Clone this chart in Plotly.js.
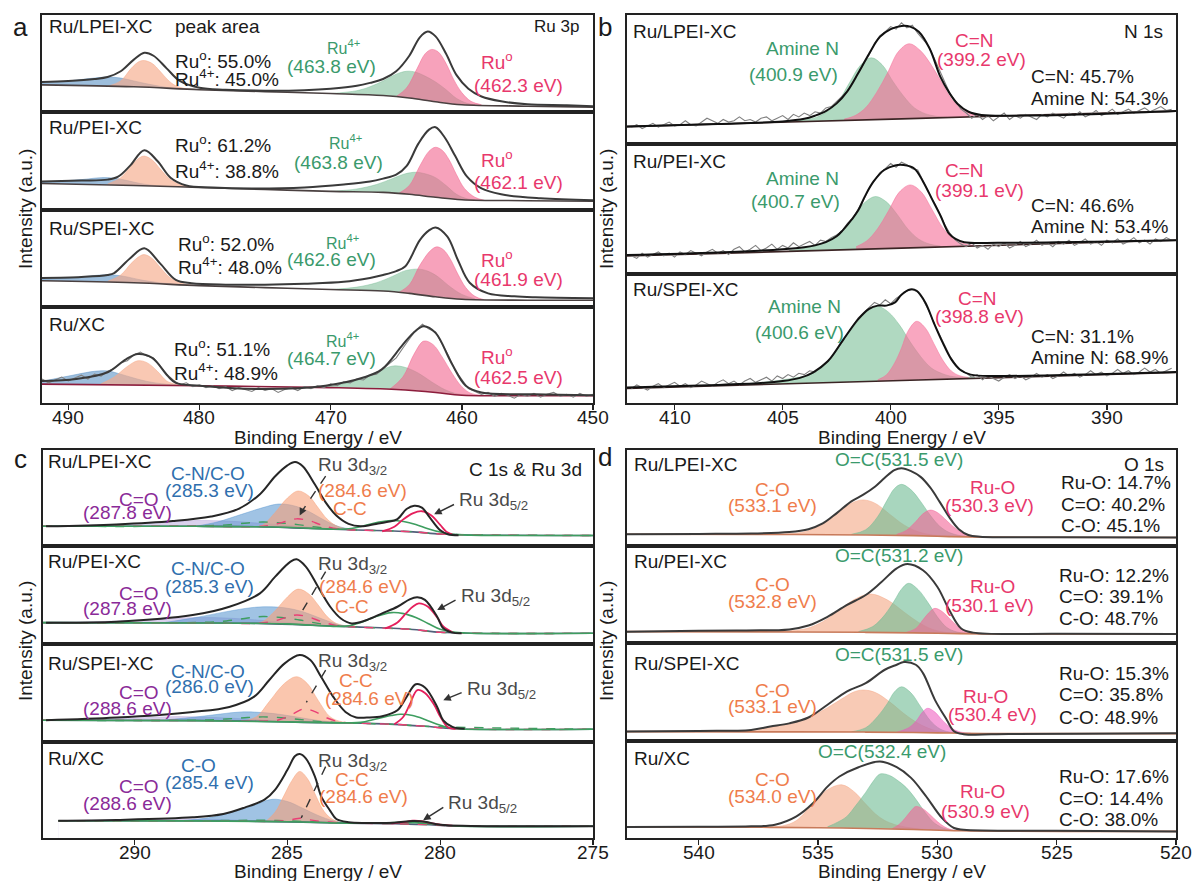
<!DOCTYPE html>
<html><head><meta charset="utf-8">
<script src="https://cdn.plot.ly/plotly-3.0.1.min.js"></script>
<style>html,body{margin:0;padding:0;background:#fff;}#chart{width:1196px;height:881px;}</style>
</head><body><div id="chart"></div>
<script>
// ===== DATA (x = binding energy / eV, y = intensity in % of each row height) =====
// ---- Panel a : Ru 3p ----
const aLPEI_env=[[492,31],[490,32],[488,34],[487,36],[486,42],[485,54],[484.2,61],[483.5,58],[482.5,45],[481.5,32],[480,25],[478,23],[475,22],[472,22.5],[470,24],[468,27],[467,30],[466,34],[465,42],[464,58],[463.2,77],[462.6,83],[462,78],[461.2,60],[460.4,38],[459.5,24],[458.5,16],[457,11],[455,8],[452,7],[450,6]];
const aLPEI_bg=[[492,28],[485,26],[480,23],[475,21],[470,19],[466,17],[464,14.5],[462,10.5],[460,7.5],[455,6],[450,5]];
const aLPEI_blue=[[492,30],[490,32],[488,35],[487,36],[486,35],[485,32],[484,29],[483,26.5],[482,24.5],[480,23]];
const aLPEI_orange=[[487,26.5],[486,32],[485.2,45],[484.6,52],[484.2,53],[483.6,50],[483,42],[482.4,33],[481.8,27],[481,24],[480,23]];
const aLPEI_green=[[470,19],[468,22],[467,26],[466,32],[465,39],[464.2,42],[463.5,41],[462.8,37],[462,31],[461.2,23],[460.4,14],[459.6,9],[459,7.5]];
const aLPEI_pink=[[465,16],[464.2,25],[463.4,45],[462.8,60],[462.3,64.5],[461.8,62],[461.2,50],[460.6,33],[460,20],[459.3,11],[458.5,7.5]];

const aPEI_env=[[492,29],[489,30],[487,31],[486.2,34],[485.3,45],[484.2,61],[483.2,50],[482.2,33],[481,25],[479,23],[476,22],[472,23],[469,26],[467,29],[466,32],[465,36],[464.2,45],[463.3,68],[462.5,82],[462,84.5],[461.3,74],[460.5,55],[459.6,34],[458.5,22],[457,16],[454,12],[450,10]];
const aPEI_bg=[[492,27],[485,25],[480,23],[475,21],[470,19],[466,18],[464,16],[462,13],[460,10.5],[455,9.5],[450,9]];
const aPEI_blue=[[492,28.5],[489,31],[487.5,33],[486.5,32.5],[485.5,30],[484.5,27],[483,24.5],[481,23.3]];
const aPEI_orange=[[487,26.5],[486,33],[485.2,45],[484.6,53],[484.2,55],[483.6,51],[483,42],[482.3,32],[481.5,26],[480.5,23.5]];
const aPEI_green=[[470,19],[468,21.5],[466.5,26],[465.3,32],[464.3,37],[463.5,38.5],[462.8,37],[462,33],[461.2,25],[460.4,16],[459.6,11.5],[459,10.3]];
const aPEI_pink=[[464.8,17],[464,25],[463.2,45],[462.5,60],[462,64],[461.5,61],[461,52],[460.4,36],[459.8,22],[459,13],[458.3,10]];

const aSPEI_env=[[492,30],[489,31],[487,33],[486.5,35],[485.3,50],[484.2,60.5],[483,45],[481.8,28],[480.6,24.5],[478,23],[475,23],[472,24],[469,26],[467,30],[466,33],[465,37],[464.3,42],[463.2,69],[462.5,79],[462,82],[461.1,72.5],[460.3,48.5],[459.4,25],[458,14],[456,11],[454.4,10],[450,9]];
const aSPEI_bg=[[492,27],[485,25],[480,22],[475,20],[470,18],[466,16.5],[464,14],[462,10.5],[460,8],[455,7],[450,7]];
const aSPEI_blue=[[492,28.5],[489,31],[487.5,33],[486.5,33],[485.5,31],[484.5,28],[483,25],[481,22.5]];
const aSPEI_orange=[[487,26.5],[486,33],[485.2,45],[484.6,52],[484.2,54],[483.6,50],[483,41],[482.3,31],[481.5,25],[480.5,22.5]];
const aSPEI_green=[[470,18],[468,20.5],[466.5,25],[465.3,31.5],[464.3,37.5],[463.3,39],[462.6,37],[461.8,31],[461,22],[460,13],[459,8.5]];
const aSPEI_pink=[[464.8,15],[464,23],[463.2,43],[462.4,58],[461.9,62],[461.4,59],[460.9,50],[460.3,34],[459.7,20],[459,11],[458.3,7.5]];

const aXC_env=[[492,23],[489.4,25],[487,32],[485.6,45.5],[484.7,51],[483.6,47],[482.4,28],[481.8,21],[480,18],[475,14.5],[470.4,18],[467.5,26.5],[466.1,35],[464.6,59],[463.7,73],[462.9,80],[462,73],[460.8,42],[459.7,18],[458.5,11],[454.4,9],[450,8]];
const aXC_bg=[[492,19.7],[480,18],[470,16],[465,14],[462,11],[460,8],[455,7.7],[450,7.6]];
const aXC_blue=[[492,22.5],[490,28],[488,33],[487,33.4],[486,30],[485,26],[484,22.5],[482.5,19.5],[481,18.3]];
const aXC_orange=[[487.5,20],[486.5,27],[485.5,38],[484.7,44],[484,42],[483.2,33],[482.5,23],[481.8,19.5],[481,18.2]];
const aXC_green=[[471,16.3],[469,20],[467.5,26],[466.2,34],[465.2,38.6],[464.3,37],[463.3,31],[462.3,22],[461.3,14],[460.5,10],[459.5,8]];
const aXC_pink=[[465.5,14.2],[464.5,27],[463.6,52],[462.9,64.5],[462.2,61],[461.5,48],[460.7,30],[460,17],[459.3,10],[458.5,8]];
// raw spectrum Ru/XC : start 492 eV, step 0.5 eV
const aXC_rawStart=492, aXC_rawStep=0.5;
const aXC_raw=[25,21,24,27,23,26,29,25,30,28,33,36,42,44,50,53,49,47,38,30,24,19,21,17,19,16,18,15,17,13,16,14,12,16,13,15,11,14,16,13,17,15,18,16,20,18,22,21,25,24,29,30,36,41,47,57,66,76,82,77,74,62,49,34,24,15,12,9,11,7,10,8,5,9,7,10,6,9,11,7,9,6,10,7,9];

// ---- Panel b : N 1s ----
const bLPEI_env=[[412.2,13.5],[408,15.5],[405,17.5],[404,19.5],[403.5,22],[403,25.5],[402.5,31.5],[402,41],[401.5,55],[401,70],[400.5,83],[400,89],[399.5,91.5],[399.1,91],[398.7,87],[398.2,74],[397.7,52],[397.3,40],[396.9,31],[396.4,25],[395.8,22.5],[394,22],[390,23.5],[386.8,25.5]];
const bLPEI_bg=[[412.2,13.5],[399.5,19.5],[386.8,25.5]];
const bLPEI_green=[[405,17],[404.4,18],[403.9,19],[403.4,21],[402.9,25.5],[402.4,33.7],[401.9,47.7],[401.4,61],[400.9,66.8],[400.4,61.5],[399.9,48.6],[399.4,37],[398.9,28],[398.4,23.5],[397.9,21.5],[397.4,20.8]];
const bLPEI_pink=[[402.15,19.3],[401.65,22],[401.15,28.3],[400.65,40],[400.15,55],[399.65,71.5],[399.15,77.7],[398.65,72.8],[398.15,62],[397.65,48],[397.15,34],[396.65,26.5],[396.15,23],[395.65,22]];
const bPEI_env=[[412.2,14.6],[408,16.5],[405,19],[404,20.5],[403.5,22],[403,24.5],[402.5,29],[402.2,34],[401.8,42],[401.5,49],[401.2,59.5],[400.8,71],[400.3,80],[399.8,83.5],[399.4,83.8],[398.9,81],[398.5,71],[398.1,58],[397.7,45],[397.3,31],[397,27],[396.6,24.5],[395,24],[390,25],[386.8,26]];
const bPEI_bg=[[412.2,13.8],[399.5,19.9],[386.8,26]];
const bPEI_green=[[404.7,18.2],[404.2,19],[403.7,21],[403.2,23.5],[402.7,27.8],[402.2,34],[401.7,44.8],[401.2,55],[400.7,59.6],[400.2,55.5],[399.7,45.8],[399.2,34.5],[398.7,26.8],[398.2,23],[397.7,21.5]];
const bPEI_pink=[[401.6,21],[401.1,25.6],[400.6,35],[400.1,48.6],[399.6,63],[399.1,68.5],[398.6,63.4],[398.1,50],[397.6,35.8],[397.1,27],[396.6,23.3],[396.1,22]];
const bSPEI_env=[[412.2,12],[408,14],[406,15.5],[405,17],[404.2,19.5],[403.6,23.6],[402.9,32.6],[402.2,49],[401.5,65],[401,73],[400.6,75.5],[400.2,75.5],[399.8,78],[399.5,84],[399.1,88],[398.8,87],[398.4,78],[398,62],[397.6,47],[397.2,34],[396.8,26],[396.3,22],[395,21],[390,22.5],[386.8,24]];
const bSPEI_bg=[[412.2,11.3],[399.5,17.5],[386.8,23.6]];
const bSPEI_green=[[406.6,15],[405.6,16.6],[404.6,19],[403.6,23],[402.9,32.6],[402.2,48.6],[401.6,61.6],[401.1,71.4],[400.6,74.9],[400.1,70.4],[399.6,60.6],[399.1,47.4],[398.6,35.7],[398.1,26.9],[397.6,22.7],[397.1,20.4],[396.1,19.8]];
const bSPEI_pink=[[400.6,18],[400.2,21.8],[399.8,31.6],[399.5,42.7],[399.2,55.7],[398.8,63.3],[398.4,58.2],[398,46],[397.6,33.5],[397.2,24.9],[396.8,21.1],[396.4,19.8]];
// raw N 1s spectra : start 412 eV, step 0.25 eV
const bRawStart=412, bRawStep=0.25;
const bLPEI_raw=[13,15,12,14,16,13,15,17,14,15,18,15,14,17,20,18,16,19,17,18,21,18,19,17,20,21,18,20,22,19,23,21,24,22,25,24,28,29,33,37,41,48,55,62,69,78,84,87,91,89,94,90,92,86,81,76,67,57,48,39,33,27,24,20,23,19,22,18,21,24,19,22,20,23,21,19,23,21,24,22,20,24,22,25,21,23,26,22,24,27,23,25,27,24,26,28,25,27,29,26,27];
const bPEI_raw=[14,12,16,13,15,17,14,16,13,17,15,18,16,14,17,19,16,18,15,19,21,17,19,22,18,20,23,19,22,20,24,21,23,25,22,26,25,28,30,33,39,43,50,57,66,72,78,81,85,82,86,84,81,80,72,63,56,47,38,31,26,23,21,24,20,22,19,23,21,24,20,22,25,21,23,26,22,24,21,25,23,26,22,24,27,23,25,22,26,24,27,23,25,28,24,26,23,27,25,28,26];
const bSPEI_raw=[11,14,12,10,13,15,12,14,16,13,15,12,14,17,15,13,16,18,15,17,14,17,19,16,18,20,17,21,19,22,20,23,22,25,24,28,31,35,41,47,54,59,66,70,74,78,76,80,77,81,84,87,88,86,80,72,62,53,45,36,30,25,23,20,22,18,21,19,17,20,22,19,21,18,20,23,20,22,19,21,24,21,23,20,22,25,22,24,21,23,26,23,25,22,24,27,24,26,23,25,27];

// ---- Panel c : C 1s & Ru 3d ----
const cLPEI_env=[[292.9,20.5],[290.6,22.5],[288.75,26],[287.5,30.7],[286.6,38.6],[285.9,54],[285.4,72.7],[285,84],[284.75,87.4],[284.5,83],[284.1,64],[283.75,45.4],[283.4,31.7],[283,23],[282.6,20.5],[282.1,23],[281.75,25],[281.4,28],[281.1,38.6],[280.85,42],[280.6,40],[280.35,30],[280,16.4],[279.75,12.3],[279.4,11.3]];
const cLPEI_bg=[[293,20.5],[288,20.5],[286,20],[284.5,18.5],[283,17],[281,15],[280,12.5],[279,11.5],[275,11]];
const cLPEI_purple=[[292.9,20.6],[291,22],[289.5,24],[288.5,26],[287.8,26.6],[287,26],[286,24],[285,21.5],[284,19]];
const cLPEI_blue=[[288,20.6],[287.3,25],[286.5,33],[285.8,40],[285.3,43.7],[284.8,42],[284.3,36],[283.8,27],[283.3,20],[282.8,17.3]];
const cLPEI_orange=[[286,20.2],[285.8,22],[285.4,35],[285,50],[284.65,57.3],[284.3,52],[284,40],[283.7,28],[283.4,21],[283,17.3]];
const cLPEI_dpink=[[293,20.5],[288,20.5],[286,20.2],[285.5,22],[285,26],[284.7,28.3],[284.3,26.5],[283.9,22],[283.5,18.5],[283,17],[281,15],[280,12.5],[279,11.5],[275,11]];
const cLPEI_dgreen=[[293,20.5],[288,20.8],[287,22],[286.3,24],[285.8,25],[285.2,24],[284.6,22],[284,19.5],[283.3,17.5],[282.5,16.5],[281,15],[280,12.5],[275,11]];
const cLPEI_sgreen=[[293,20.5],[288,20.5],[285,19.5],[283.5,17.5],[283,18],[282.5,21],[282,25],[281.6,26.6],[281.2,25.5],[280.8,22.5],[280.4,18],[280,14.5],[279.5,12],[279,11.3],[275,11]];
const cLPEI_spink=[[281.9,15.3],[281.5,20],[281.2,28],[280.9,34],[280.6,36.2],[280.3,32],[280,22],[279.8,15],[279.6,12]];

const cPEI_env=[[292.9,21.8],[290.6,22.8],[288.1,29.5],[286.9,38],[285.9,51.7],[285.4,68.7],[284.9,84],[284.7,86.4],[284.4,79],[284,58.5],[283.6,38],[283.25,26],[282.9,21],[282.4,24.5],[281.9,31.3],[281.4,38],[281,45.6],[280.75,47.6],[280.5,45],[280.1,27.9],[279.9,16],[279.6,11.6],[279.3,11]];
const cPEI_bg=[[293,21.8],[288,21.5],[286,21],[284.5,19.5],[283,17.7],[281,15],[280,12],[279,11],[275,10.9]];
const cPEI_purple=[[292.9,21.9],[291,23],[289.5,25],[288.5,26.5],[287.8,27],[287,26.5],[286,24.5],[285,22],[284,19.5]];
const cPEI_blue=[[289,22],[288,27],[287,33],[286.2,37],[285.7,38],[285.1,37],[284.5,33],[283.9,26],[283.3,19.5],[282.8,17.3]];
const cPEI_orange=[[286,21.2],[285.8,23],[285.4,34],[285,48],[284.65,56],[284.3,51],[284,40],[283.7,28],[283.4,21],[283,18]];
const cPEI_dpink=[[293,21.8],[288,21.5],[286,21.2],[285.5,23],[285,27.5],[284.7,29.6],[284.3,27.5],[283.9,23],[283.5,19.5],[283,17.7],[281,15],[280,12],[279,11],[275,10.9]];
const cPEI_dgreen=[[293,21.8],[288,22],[287,23.5],[286.3,26.5],[285.8,28],[285.2,27],[284.6,24.5],[284,21],[283.3,18.5],[282.5,17],[281,15],[280,12],[275,10.9]];
const cPEI_sgreen=[[293,21.8],[288,21.5],[285,20.5],[283.5,18],[283,18.5],[282.6,22],[282.1,28],[281.6,32],[281.2,31],[280.8,27],[280.4,21],[280,15],[279.5,12],[279,11],[275,10.9]];
const cPEI_spink=[[281.8,16],[281.4,22],[281.1,32],[280.9,38],[280.7,41.5],[280.4,38],[280.1,27],[279.9,18],[279.6,12]];

const cSPEI_env=[[292.9,22.2],[290.6,24.9],[288.1,30.7],[286.9,35.8],[286.1,46],[285.6,63],[285.1,80],[284.6,88.7],[284.25,83.6],[283.9,66.6],[283.5,46],[283.1,30.7],[282.75,25],[282.4,25],[281.9,26.3],[281.4,32.4],[281.1,46],[280.8,59],[280.5,55.6],[280.1,35.8],[279.9,22],[279.6,15.4],[279.2,13.5]];
const cSPEI_bg=[[293,22.2],[288,21.8],[286,21.2],[284.5,20],[283,19.5],[281.5,18],[280.5,16],[279.5,13.5],[275,13]];
const cSPEI_purple=[[292.9,22.3],[291,23.5],[289.5,25],[288.6,26],[287.8,25.5],[287,24.5],[286,23],[285,21],[284,20]];
const cSPEI_blue=[[289,22.5],[288,25.5],[287.2,28.5],[286.5,30.7],[285.8,30],[285.2,28],[284.6,25],[284,22],[283.4,20]];
const cSPEI_orange=[[286.4,21.5],[286,26],[285.6,41],[285.1,59.7],[284.7,66.6],[284.35,59.7],[284,42.7],[283.6,25.6],[283.2,20.5],[282.8,19.5]];
const cSPEI_dpink=[[293,22.2],[288,21.8],[286,21.2],[285.3,22.5],[284.8,29],[284.45,34],[284.1,31],[283.7,24.5],[283.3,20.5],[283,19.5],[281.5,18],[280.5,16],[279.5,13.5],[275,13]];
const cSPEI_dgreen=[[293,22.2],[288,22.3],[287,23.5],[286.3,25],[285.8,25.6],[285.2,24.8],[284.6,23],[284,21],[283.3,19.8],[282.5,19],[281.5,18],[280.5,16],[275,13]];
const cSPEI_sgreen=[[293,22.2],[288,21.8],[285,20.5],[283,19.5],[282.6,20],[282.1,23.5],[281.6,27],[281.3,28.3],[280.9,27],[280.5,23],[280.1,18],[279.7,14.5],[279.3,13.3],[275,13]];
const cSPEI_spink=[[281.5,18],[281.2,26],[281,38],[280.75,53],[280.5,50],[280.2,38],[280,26],[279.75,15],[279.5,13.5]];

const cXC_env=[[292.5,18],[290.6,18.8],[288.1,21.5],[287.1,25],[286.4,31.7],[285.75,40],[285.4,50.5],[285,71],[284.75,85.3],[284.6,87.4],[284.4,83],[284.1,64],[283.9,43.7],[283.6,28.3],[283.4,19.8],[283,16.4],[282.4,15.7],[281.5,16],[280.9,17.7],[280.5,17],[280,13.7],[279,12.5],[275,12.3]];
const cXC_bg=[[292.5,18],[288,17.8],[286,17.3],[284.5,16.5],[283,15.5],[281.5,15],[280.5,14],[279.5,12.5],[275,12.3]];
const cXC_purple=[[292.5,18.1],[291,18.7],[289.5,19.5],[288.6,20],[287.8,19.8],[287,19],[286,18],[285,17]];
const cXC_blue=[[288.5,18],[287.5,21.5],[286.8,27],[286.1,34],[285.5,40.3],[285,38],[284.5,31],[284,23.5],[283.5,18],[283,15.7]];
const cXC_orange=[[285.7,17.5],[285.4,27],[285.1,45],[284.85,60],[284.6,69.3],[284.35,62],[284.1,46],[283.85,30],[283.6,21],[283.3,16.5],[283,15.6]];
const cXC_dpink=[[292.5,18],[288,17.8],[286,17.3],[285.3,17.5],[284.8,19.5],[284.6,20.5],[284.3,19],[283.8,17],[283,15.5],[281.5,15],[280.5,14],[279.5,12.5],[275,12.3]];
const cXC_dgreen=[[292.5,18],[287,18.2],[286,18.5],[285,18],[284,16.5],[283,15.5],[281.5,15],[280.5,14],[279.5,12.5],[275,12.3]];
const cXC_sgreen=[[292.5,18],[288,17.8],[285,17],[283,15.5],[282,15.5],[281.3,16.3],[280.8,16],[280.2,14.5],[279.5,12.5],[275,12.3]];
const cXC_spink=[[281.6,15],[281.2,16.5],[280.9,18],[280.6,17.5],[280.3,15.5],[280,14],[279.6,12.8]];

// ---- Panel d : O 1s ----
const dLPEI_env=[[543,12.3],[540,12.6],[537.8,13],[536.2,14.5],[535.4,17.5],[534.8,23.5],[534.2,34.5],[533.6,46.5],[533.1,53.5],[532.6,62],[532.2,71],[531.8,79],[531.5,81],[531.1,78],[530.7,72],[530.3,61],[529.9,46],[529.5,30],[529.1,17.5],[528.7,11.5],[528.2,9.7],[525,9.2],[520,8.9]];
const dLPEI_bg=[[543,12.3],[536,12],[533,11.5],[531,10.8],[529.5,9.8],[528,9.2],[520,8.9]];
const dLPEI_orange=[[537,12.4],[536,13.1],[535.4,16],[534.8,22.8],[534.2,33.7],[533.6,44.6],[533.1,48],[532.6,44.4],[532,33.2],[531.4,22],[530.8,14.8],[530.2,11.5],[529.6,10.1]];
const dLPEI_green=[[533.6,12.2],[533,16.9],[532.5,30.5],[532.1,47.8],[531.8,59.7],[531.5,64.2],[531.1,58.5],[530.7,46.4],[530.3,32.2],[529.9,20.6],[529.5,14.1],[529,10.6],[528.5,9.4]];
const dLPEI_pink=[[531.7,12.2],[531.3,16.2],[530.9,25.5],[530.6,33.5],[530.3,37.4],[530,34.9],[529.6,26.3],[529.2,17.5],[528.8,12.1],[528.4,9.9]];
const dPEI_env=[[543,11.7],[540,12.5],[538,13],[536.2,14],[535.4,18],[534.6,27],[533.8,39],[533,49.5],[532.4,61.5],[531.7,77],[531.25,81.4],[530.6,75],[530,58],[529.5,34],[529,15],[528.5,10.7],[525,9.5],[520,9.3]];
const dPEI_bg=[[543,11.7],[536,11.4],[533,11],[531,10.4],[529.5,9.8],[528,9.4],[520,9.3]];
const dPEI_orange=[[537,12],[536,13],[535.4,15.5],[534.8,22],[534.2,32],[533.5,44.5],[532.8,50.5],[532.1,44.5],[531.4,32],[530.8,21.5],[530.2,14],[529.6,10.8],[529,9.8]];
const dPEI_green=[[533.3,11.8],[532.7,17],[532.2,29],[531.8,43.5],[531.5,55.5],[531.2,61.5],[530.8,55],[530.4,42],[530,27],[529.6,16],[529.2,11.5],[528.7,9.8]];
const dPEI_pink=[[531.3,11],[530.9,15],[530.6,24],[530.3,32.5],[530.1,35.7],[529.8,32.5],[529.4,23],[529,14.5],[528.6,10.5],[528.2,9.5]];
const dSPEI_env=[[543,9.6],[540,10.3],[537.8,11.3],[537,14.7],[536.2,18],[535.4,24],[534.6,37],[533.8,50.5],[533,59],[532.2,72.7],[531.7,77.8],[531.4,80.5],[530.9,77.8],[530.6,69.3],[530.1,42],[529.6,21.5],[529.3,10],[528.9,7],[527,7.2],[524,7.5],[520,7.8]];
const dSPEI_bg=[[543,9.6],[536,9.3],[533,9.1],[531,8.6],[529.5,8.1],[528,7.6],[520,7.5]];
const dSPEI_orange=[[538,10.5],[537.5,12],[537,14],[536.4,17],[535.8,20.5],[535.2,26],[534.6,34],[534,43],[533.5,50],[533.1,52],[532.6,49.5],[532,40],[531.4,28],[530.8,18],[530.2,11.5],[529.6,9],[529,8.3]];
const dSPEI_green=[[533.6,9.3],[533,13.5],[532.5,25],[532.1,38],[531.8,50],[531.5,55.3],[531.1,49],[530.7,35],[530.3,21],[529.9,12.5],[529.5,9.2],[529,8.2]];
const dSPEI_pink=[[531.7,9],[531.2,13.5],[530.9,20],[530.6,30],[530.4,33.4],[530.1,29.5],[529.8,21.5],[529.4,13],[529,9],[528.6,8]];
const dXC_env=[[543,11.3],[540,11.6],[537.8,12],[536.8,13.7],[535.9,22.3],[535.2,36],[534.6,53],[534.1,63.4],[533.3,73],[532.4,78.8],[531.7,73],[531.1,62],[530.5,44],[529.8,20.5],[529.3,10.3],[528.9,8.6],[525,7.5],[520,6.8]];
const dXC_bg=[[543,11.3],[537,11],[534,10.3],[531,8.8],[529,7.5],[520,6.8]];
const dXC_orange=[[537.5,11.2],[536.5,12.5],[535.9,18],[535.2,36],[534.6,49.7],[534,54.8],[533.5,48],[533,35],[532.6,25],[532.2,18],[531.8,14],[531.4,11.5],[530.8,9.5],[530.2,8.5]];
const dXC_green=[[534.6,11.5],[534.2,16],[533.8,22],[533.4,34],[533,47],[532.7,58],[532.4,66],[532,64.5],[531.7,60],[531.3,52],[530.9,40],[530.5,26],[530.1,15],[529.6,9],[529.2,7.7]];
const dXC_pink=[[531.9,9.5],[531.6,14],[531.3,22],[531.1,28],[530.9,32.5],[530.6,30],[530.3,24],[530,17],[529.7,11.5],[529.4,8.5],[529,7.5]];

// ===== STYLE / LAYOUT =====
const FONT='Liberation Sans, Arial, Helvetica, sans-serif';
const W=1196,H=881;
const K='#1a1a1a',G='#3a9a6c',P='#e8386c',O='#ef7d4c',B='#2f6fae',PU='#8a2a98',GR='#4a4a4a';
const geom={
  a:{x0:42,x1:593,rows:[15,112,210,307,403],range:[492,450],ticks:[490,480,470,460,450]},
  b:{x0:627,x1:1176,rows:[15,144,274,403],range:[412.2,386.8],ticks:[410,405,400,395,390]},
  c:{x0:43,x1:593,rows:[450,546,644,742,838],range:[293,275],ticks:[290,285,280,275]},
  d:{x0:627,x1:1176,rows:[450,546,643,741,838],range:[543,520],ticks:[540,535,530,525,520]}
};
const aC={blue:'rgba(92,146,196,0.6)',orange:'rgba(246,170,138,0.65)',green:'rgba(118,186,146,0.55)',pink:'rgba(242,100,142,0.6)'};
const bC={green:'rgba(112,186,142,0.55)',pink:'rgba(245,108,150,0.6)'};
const cC={purple:'rgba(172,152,214,0.45)',blue:'rgba(82,146,206,0.55)',orange:'rgba(246,160,120,0.6)'};
const dC={orange:'rgba(244,166,132,0.6)',green:'rgba(110,186,146,0.6)',pink:'rgba(242,100,150,0.6)',mag:'rgba(236,84,188,0.55)'};
const cLines=(dg,dp,sg,sp)=>[[dg,'#3e9e60','dash',1.4],[dp,'#ea3f75','dash',1.4],[sg,'#3e9e60','solid',1.6],[sp,'#e51f5c','solid',1.8]];

const subplots=[
 {k:1,p:'a',r:0,fills:[[aLPEI_blue,aC.blue],[aLPEI_orange,aC.orange],[aLPEI_green,aC.green],[aLPEI_pink,aC.pink]],bg:[aLPEI_bg,'#4a4040'],env:[aLPEI_env,'#3a3a3a'],
  labels:[['Ru/LPEI-XC',491.6,88,'left',K],['peak area',482,88,'left',K],['Ru<sup>o</sup>: 55.0%',482,54,'left',K],['Ru<sup>4+</sup>: 45.0%',482,35,'left',K],['Ru<sup>4+</sup>',469,67,'center',G,16],['(463.8 eV)',469.9,46.5,'center',G],['Ru<sup>o</sup>',457.3,53,'center',P],['(462.3 eV)',455.7,27.6,'center',P],['Ru 3p',450.9,88,'right',K,17]]},
 {k:2,p:'a',r:1,fills:[[aPEI_blue,aC.blue],[aPEI_orange,aC.orange],[aPEI_green,aC.green],[aPEI_pink,aC.pink]],bg:[aPEI_bg,'#4a4040'],env:[aPEI_env,'#3a3a3a'],
  labels:[['Ru/PEI-XC',491.6,84.5,'left',K],['Ru<sup>o</sup>: 61.2%',482,67,'left',K],['Ru<sup>4+</sup>: 38.8%',482,41,'left',K],['Ru<sup>4+</sup>',468.9,69,'center',G,16],['(463.8 eV)',469.4,48,'center',G],['Ru<sup>o</sup>',457.3,52,'center',P],['(462.1 eV)',455.7,28,'center',P]]},
 {k:3,p:'a',r:2,fills:[[aSPEI_blue,aC.blue],[aSPEI_orange,aC.orange],[aSPEI_green,aC.green],[aSPEI_pink,aC.pink]],bg:[aSPEI_bg,'#4a4040'],env:[aSPEI_env,'#3a3a3a'],
  labels:[['Ru/SPEI-XC',491.6,81,'left',K],['Ru<sup>o</sup>: 52.0%',481.8,66,'left',K],['Ru<sup>4+</sup>: 48.0%',481.8,42,'left',K],['Ru<sup>4+</sup>',469.1,67.5,'center',G,16],['(462.6 eV)',469.9,48.6,'center',G],['Ru<sup>o</sup>',457.3,50,'center',P],['(461.9 eV)',455.7,28,'center',P]]},
 {k:4,p:'a',r:3,fills:[[aXC_blue,aC.blue],[aXC_orange,aC.orange],[aXC_green,aC.green],[aXC_pink,aC.pink]],bg:[aXC_bg,'#8c1d3c'],env:[aXC_env,'#3a3a3a'],raw:[aXC_raw,aXC_rawStart,aXC_rawStep],
  labels:[['Ru/XC',491.6,81.7,'left',K],['Ru<sup>o</sup>: 51.1%',482.1,57.6,'left',K],['Ru<sup>4+</sup>: 48.9%',482.1,32.4,'left',K],['Ru<sup>4+</sup>',469.1,66,'center',G,16],['(464.7 eV)',469.9,46,'center',G],['Ru<sup>o</sup>',457.3,49,'center',P],['(462.5 eV)',455.7,26.5,'center',P]]},
 {k:5,p:'b',r:0,fills:[[bLPEI_green,bC.green],[bLPEI_pink,bC.pink]],bg:[bLPEI_bg,'#3b2424'],env:[bLPEI_env,'#111111'],raw:[bLPEI_raw,bRawStart,bRawStep],
  labels:[['Ru/LPEI-XC',412,87,'left',K],['N 1s',387.3,87,'right',K],['Amine N',404.1,74,'center',G],['(400.9 eV)',404.5,53.5,'center',G],['C=N',396.1,80.6,'center',P],['(399.2 eV)',395.8,65.6,'center',P],['C=N: 45.7%',393.6,52,'left',K],['Amine N: 54.3%',393.6,35.4,'left',K]]},
 {k:6,p:'b',r:1,fills:[[bPEI_green,bC.green],[bPEI_pink,bC.pink]],bg:[bPEI_bg,'#3b2424'],env:[bPEI_env,'#111111'],raw:[bPEI_raw,bRawStart,bRawStep],
  labels:[['Ru/PEI-XC',412,86.4,'left',K],['Amine N',404.1,73.6,'center',G],['(400.7 eV)',404.4,55.6,'center',G],['C=N',396.6,80,'center',P],['(399.1 eV)',395.9,64.6,'center',P],['C=N: 46.6%',393.6,53,'left',K],['Amine N: 53.4%',393.6,36.4,'left',K]]},
 {k:7,p:'b',r:2,fills:[[bSPEI_green,bC.green],[bSPEI_pink,bC.pink]],bg:[bSPEI_bg,'#3b2424'],env:[bSPEI_env,'#111111'],raw:[bSPEI_raw,bRawStart,bRawStep],
  labels:[['Ru/SPEI-XC',412,87.7,'left',K],['Amine N',404,74.9,'center',G],['(400.6 eV)',404.2,54.4,'center',G],['C=N',396,81.3,'center',P],['(398.8 eV)',395.9,67.2,'center',P],['C=N: 31.1%',393.6,51.8,'left',K],['Amine N: 68.9%',393.6,35,'left',K]]},
 {k:8,p:'c',r:0,fills:[[cLPEI_purple,cC.purple],[cLPEI_blue,cC.blue],[cLPEI_orange,cC.orange]],bg:[cLPEI_bg,'#52607a'],lines:cLines(cLPEI_dgreen,cLPEI_dpink,cLPEI_sgreen,cLPEI_spink),env:[cLPEI_env,'#262626'],
  labels:[['Ru/LPEI-XC',292.9,88,'left',K],['C 1s &amp; Ru 3d',275.3,79.5,'right',K],['C-N/C-O',287.6,76,'center',B],['(285.3 eV)',287.55,57.3,'center',B],['C=O',289.85,48.5,'center',PU],['(287.8 eV)',290.25,34.5,'center',PU],['Ru 3d<sub>3/2</sub>',284.06,83,'left',GR],['(284.6 eV)',282.55,57.3,'center',O],['C-C',282.95,38.6,'center',O],['Ru 3d<sub>5/2</sub>',279.44,47,'left',GR]],
  arrow:[280.2,33,279.5,44], dash:[283.75,72.7,284.54,35.5,284.6,31.7]},
 {k:9,p:'c',r:1,fills:[[cPEI_purple,cC.purple],[cPEI_blue,cC.blue],[cPEI_orange,cC.orange]],bg:[cPEI_bg,'#52607a'],lines:cLines(cPEI_dgreen,cPEI_dpink,cPEI_sgreen,cPEI_spink),env:[cPEI_env,'#262626'],
  labels:[['Ru/PEI-XC',292.9,84,'left',K],['C-N/C-O',287.6,77,'center',B],['(285.3 eV)',287.55,58.5,'center',B],['C=O',289.85,51.5,'center',PU],['(287.8 eV)',290.25,35.9,'center',PU],['Ru 3d<sub>3/2</sub>',284.06,80.6,'left',GR],['(284.6 eV)',282.5,58.5,'center',O],['C-C',282.9,38,'center',O],['Ru 3d<sub>5/2</sub>',279.4,48.3,'left',GR]],
  arrow:[280.1,34.7,279.45,45.5], dash:[283.75,73.8,284.5,34.5,284.56,31.3]},
 {k:10,p:'c',r:2,fills:[[cSPEI_purple,cC.purple],[cSPEI_blue,cC.blue],[cSPEI_orange,cC.orange]],bg:[cSPEI_bg,'#52607a'],lines:cLines(cSPEI_dgreen,cSPEI_dpink,cSPEI_sgreen,cSPEI_spink),env:[cSPEI_env,'#262626'],
  labels:[['Ru/SPEI-XC',292.9,80,'left',K],['C-N/C-O',287.6,71.7,'center',B],['(286.0 eV)',287.55,56.3,'center',B],['C=O',289.85,51,'center',PU],['(288.6 eV)',290.25,34.5,'center',PU],['Ru 3d<sub>3/2</sub>',284.06,82,'left',GR],['C-C',282.75,63,'center',O],['(284.6 eV)',282.3,44.4,'center',O],['Ru 3d<sub>5/2</sub>',279.2,53,'left',GR]],
  arrow:[279.9,42.7,279.25,51], dash:[283.75,73.4,284.38,40.5,284.44,37.5]},
 {k:11,p:'c',r:3,fills:[[cXC_purple,cC.purple],[cXC_blue,cC.blue],[cXC_orange,cC.orange]],bg:[cXC_bg,'#52607a'],lines:cLines(cXC_dgreen,cXC_dpink,cXC_sgreen,cXC_spink),env:[cXC_env,'#262626'],
  labels:[['Ru/XC',292.9,83,'left',K],['C-O',287.9,76,'center',B],['(285.4 eV)',287.55,57.3,'center',B],['C=O',289.85,53.5,'center',PU],['(288.6 eV)',290.25,36.4,'center',PU],['Ru 3d<sub>3/2</sub>',284.06,79.5,'left',GR],['C-C',282.9,60.8,'center',O],['(284.6 eV)',282.5,43.7,'center',O],['Ru 3d<sub>5/2</sub>',279.8,35,'left',GR]],
  arrow:[280.56,18.5,279.85,33], dash:[283.75,74.4,284.55,20.8,284.6,17.5]},
 {k:12,p:'d',r:0,fills:[[dLPEI_orange,dC.orange],[dLPEI_green,dC.green],[dLPEI_pink,dC.pink]],bg:[dLPEI_bg,'#c87a5a'],env:[dLPEI_env,'#3a3a3a'],
  labels:[['Ru/LPEI-XC',542.8,84.6,'left',K],['O=C(531.5 eV)',531.6,89.8,'center',G],['O 1s',520.4,84.6,'right',K],['C-O',536.9,59,'center',O],['(533.1 eV)',536.9,42,'center',O],['Ru-O',527.7,60.8,'center',P],['(530.3 eV)',527.8,42,'center',P],['Ru-O: 14.7%',524.9,65.9,'left',K],['C=O: 40.2%',524.9,43.7,'left',K],['C-O: 45.1%',524.9,21.5,'left',K]]},
 {k:13,p:'d',r:1,fills:[[dPEI_orange,dC.orange],[dPEI_green,dC.green],[dPEI_pink,dC.pink]],bg:[dPEI_bg,'#c87a5a'],env:[dPEI_env,'#3a3a3a'],
  labels:[['Ru/PEI-XC',542.8,83.8,'left',K],['O=C(531.2 eV)',531.6,90.7,'center',G],['C-O',536.9,59.8,'center',O],['(532.8 eV)',536.9,42.6,'center',O],['Ru-O',527.7,58,'center',P],['(530.1 eV)',527.8,39,'center',P],['Ru-O: 12.2%',525,70,'left',K],['C=O: 39.1%',525,47.8,'left',K],['C-O: 48.7%',525,25.4,'left',K]]},
 {k:14,p:'d',r:2,fills:[[dSPEI_orange,dC.orange],[dSPEI_green,dC.green],[dSPEI_pink,dC.mag]],bg:[dSPEI_bg,'#c87a5a'],env:[dSPEI_env,'#3a3a3a'],
  labels:[['Ru/SPEI-XC',542.8,79.5,'left',K],['O=C(531.5 eV)',531.6,88,'center',G],['C-O',536.9,52,'center',O],['(533.1 eV)',536.9,35,'center',O],['Ru-O',528,45.4,'center',P],['(530.4 eV)',527.7,26.6,'center',P],['Ru-O: 15.3%',525,69.3,'left',K],['C=O: 35.8%',525,47,'left',K],['C-O: 48.9%',525,24.2,'left',K]]},
 {k:15,p:'d',r:3,fills:[[dXC_orange,dC.orange],[dXC_green,dC.green],[dXC_pink,dC.pink]],bg:[dXC_bg,'#c87a5a'],env:[dXC_env,'#3a3a3a'],
  labels:[['Ru/XC',542.8,82,'left',K],['O=C(532.4 eV)',532.3,89,'center',G],['C-O',536.9,60,'center',O],['(534.0 eV)',536.9,42.8,'center',O],['Ru-O',528.1,48,'center',P],['(530.9 eV)',528,27.4,'center',P],['Ru-O: 17.6%',525,63.4,'left',K],['C=O: 14.4%',525,41,'left',K],['C-O: 38.0%',525,18.8,'left',K]]}
];

// ===== BUILD =====
const traces=[], annotations=[], shapes=[];
const layout={width:W,height:H,margin:{l:0,r:0,t:0,b:0},paper_bgcolor:'#fff',plot_bgcolor:'rgba(0,0,0,0)',showlegend:false,font:{family:FONT,size:19,color:K}};
const X=a=>a.map(p=>p[0]), Y=a=>a.map(p=>p[1]);
subplots.forEach(sp=>{
  const g=geom[sp.p], k=sp.k, sfx=k===1?'':String(k);
  const xa='x'+sfx, ya='y'+sfx;
  const top=g.rows[sp.r], bot=g.rows[sp.r+1], isBottom=(sp.r===g.rows.length-2);
  layout['xaxis'+sfx]={domain:[g.x0/W,g.x1/W],range:g.range,anchor:ya,showline:true,mirror:true,linewidth:1.6,linecolor:'#222',showgrid:false,zeroline:false,
    ticks:isBottom?'outside':'',ticklen:5,tickwidth:1.4,tickcolor:'#222',tickmode:'array',tickvals:g.ticks,showticklabels:false,fixedrange:true};
  layout['yaxis'+sfx]={domain:[1-bot/H,1-top/H],range:[0,100],anchor:xa,showline:true,mirror:true,linewidth:1.6,linecolor:'#222',showgrid:false,zeroline:false,showticklabels:false,ticks:'',fixedrange:true};
  // tick labels placed just under the bottom frame of each panel
  if(isBottom){g.ticks.forEach(t=>annotations.push({text:String(t),x:t,xref:xa,y:1-(bot+14)/H,yref:'paper',xanchor:'center',yanchor:'middle',showarrow:false,font:{family:FONT,size:19,color:K}}));}
  const base={xaxis:xa,yaxis:ya,mode:'lines',hoverinfo:'skip',type:'scatter'};
  sp.fills.forEach(([d,c])=>traces.push(Object.assign({},base,{x:X(d),y:Y(d),fill:'tozeroy',fillcolor:c,line:{shape:'spline',width:0.8,color:c}})));
  traces.push(Object.assign({},base,{x:X(sp.bg[0]),y:Y(sp.bg[0]),fill:'tozeroy',fillcolor:'#ffffff',line:{shape:'spline',width:1.6,color:sp.bg[1]}}));
  (sp.lines||[]).forEach(([d,c,dash,w])=>traces.push(Object.assign({},base,{x:X(d),y:Y(d),line:{shape:'spline',width:w,color:c,dash:dash}})));
  if(sp.raw){const [vals,start,step]=sp.raw;traces.push(Object.assign({},base,{x:vals.map((v,i)=>start-i*step),y:vals,line:{width:1.1,color:'#808080'}}));}
  traces.push(Object.assign({},base,{x:X(sp.env[0]),y:Y(sp.env[0]),line:{shape:'spline',width:2,color:sp.env[1]}}));
  sp.labels.forEach(([t,x,y,anc,col,sz])=>annotations.push({text:t,x:x,y:y,xref:xa,yref:ya,xanchor:anc,yanchor:'middle',showarrow:false,font:{family:FONT,size:sz||19,color:col}}));
  if(sp.arrow){const [x,y,ax,ay]=sp.arrow;annotations.push({text:'',x:x,y:y,ax:ax,ay:ay,xref:xa,yref:ya,axref:xa,ayref:ya,showarrow:true,arrowhead:2,arrowsize:1,arrowwidth:1.5,arrowcolor:'#333',standoff:0});}
  if(sp.dash){const [x0,y0,x1,y1,hx,hy]=sp.dash;shapes.push({type:'line',xref:xa,yref:ya,x0:x0,y0:y0,x1:x1,y1:y1,line:{color:'#333',width:1.4,dash:'dash'}});
    annotations.push({text:'',x:hx,y:hy,ax:x1,ay:y1,xref:xa,yref:ya,axref:xa,ayref:ya,showarrow:true,arrowhead:2,arrowsize:1,arrowwidth:1.5,arrowcolor:'#333',standoff:0});}
});
// axis titles and panel letters (pixel positions converted to paper fractions)
const P2=(px,py)=>({x:px/W,y:1-py/H});
const paperText=(t,px,py,size,angle)=>{const p=P2(px,py);annotations.push({text:t,x:p.x,y:p.y,xref:'paper',yref:'paper',xanchor:'center',yanchor:'middle',textangle:angle||0,showarrow:false,font:{family:FONT,size:size,color:K}});};
[[317.5,437],[901.5,437],[318,871],[901.5,871]].forEach(([x,y])=>paperText('Binding Energy / eV',x,y,19));
[[25,209],[606,209],[25,641],[606,641]].forEach(([x,y])=>paperText('Intensity (a.u.)',x,y,19,-90));
[['a',20,27],['b',605,27],['c',20,459],['d',605,457]].forEach(([t,x,y])=>paperText(t,x,y,26));
layout.annotations=annotations; layout.shapes=shapes;
Plotly.newPlot('chart',traces,layout,{staticPlot:true,displayModeBar:false});
</script></body></html>
